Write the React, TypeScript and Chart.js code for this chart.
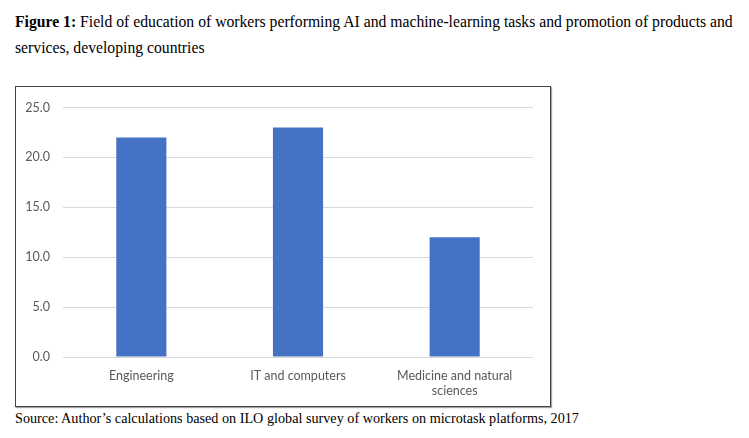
import React, { useEffect, useRef } from "react";
import { Chart, registerables } from "chart.js";

Chart.register(...registerables);

const categories: (string | string[])[] = ["Engineering", "IT and computers", ["Medicine and natural", "sciences"]];
const values: number[] = [22.0, 23.0, 12.0];
const yTicks: number[] = [0, 5, 10, 15, 20, 25];

const axisFont = { family: "Lato, 'Liberation Sans', sans-serif", size: 12.5 };

export default function App() {
  const ref = useRef<HTMLCanvasElement | null>(null);

  useEffect(() => {
    if (!ref.current) return;
    const chart = new Chart(ref.current, {
      type: "bar",
      data: {
        labels: categories,
        datasets: [
          {
            data: values,
            backgroundColor: "#4472C4",
            borderWidth: 0,
            categoryPercentage: 1,
            barPercentage: 0.32,
          },
        ],
      },
      options: {
        animation: false,
        responsive: false,
        maintainAspectRatio: false,
        layout: { padding: { left: 0, right: 17, top: 17, bottom: 0 } },
        plugins: { legend: { display: false }, tooltip: { enabled: false }, title: { display: false } },
        scales: {
          x: {
            grid: { display: false, drawTicks: false },
            border: { display: false },
            ticks: { color: "#595959", font: axisFont, padding: 11, maxRotation: 0, autoSkip: false },
            afterFit: (axis: any) => {
              axis.height = 49;
            },
          },
          y: {
            min: 0,
            max: 25,
            afterBuildTicks: (axis: any) => {
              axis.ticks = yTicks.map((v) => ({ value: v }));
            },
            grid: { color: "#d9d9d9", lineWidth: 1, drawTicks: false },
            border: { display: false },
            ticks: {
              color: "#595959",
              font: axisFont,
              padding: 13,
              callback: (v: any) => Number(v).toFixed(1),
            },
            afterFit: (axis: any) => {
              axis.width = 47;
            },
          },
        },
      },
    });
    return () => chart.destroy();
  }, []);

  const serif = "'Liberation Serif', 'Times New Roman', serif";

  return (
    <div>
      <div
        style={{
          position: "absolute",
          left: 15,
          top: 9,
          fontFamily: serif,
          fontSize: 15.7,
          lineHeight: "26px",
          color: "#000",
          whiteSpace: "nowrap",
        }}
      >
        <b>Figure 1:</b> Field of education of workers performing AI and machine-learning tasks and promotion of products and
        <br />
        services, developing countries
      </div>
      <div
        style={{
          position: "absolute",
          left: 15,
          top: 86,
          width: 534,
          height: 319,
          border: "1px solid #444",
          boxShadow: "1px 1px 1px rgba(0,0,0,0.35)",
          background: "#fff",
        }}
      >
        <canvas ref={ref} width={534} height={319} style={{ display: "block", width: 534, height: 319 }} />
      </div>
      <div
        style={{
          position: "absolute",
          left: 15,
          top: 408,
          fontFamily: serif,
          fontSize: 14.2,
          lineHeight: "20px",
          color: "#000",
          whiteSpace: "nowrap",
        }}
      >
        Source: Author’s calculations based on ILO global survey of workers on microtask platforms, 2017
      </div>
    </div>
  );
}
